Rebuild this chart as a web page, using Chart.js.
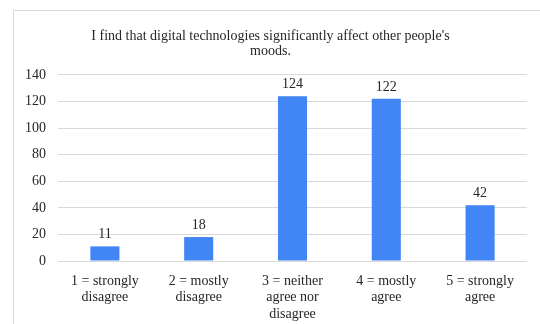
<!DOCTYPE html>
<html>
<head>
<meta charset="utf-8">
<script src="https://cdn.jsdelivr.net/npm/chart.js@4/dist/chart.umd.min.js"></script>
<style>
  html, body { margin: 0; padding: 0; background: #ffffff; }
  body { width: 540px; height: 324px; position: relative; overflow: hidden; font-family: 'Liberation Serif', serif; }
  #frame {
    position: absolute; left: 13px; top: 10px;
    width: 540px; height: 330px;
    border-left: 1px solid #d9d9d9; border-top: 1px solid #d9d9d9;
  }
  #wrap { position: absolute; left: 14px; top: 11px; width: 526px; height: 313px; }
</style>
</head>
<body>
<div id="frame"></div>
<div id="wrap"><canvas id="chart"></canvas></div>
<script>
// Survey answers on a 1–5 agreement scale
const categories = [
  ["1 = strongly", "disagree"],
  ["2 = mostly", "disagree"],
  ["3 = neither", "agree nor", "disagree"],
  ["4 = mostly", "agree"],
  ["5 = strongly", "agree"]
];
const responses = [11, 18, 124, 122, 42];
const yTicks = [0, 20, 40, 60, 80, 100, 120, 140];
const titleLines = ["I find that digital technologies significantly affect other people's", "moods."];

const serif = "'Liberation Serif', 'Times New Roman', serif";
const textColor = "#262626";

// Writes each bar's count just above it
const valueLabels = {
  id: "valueLabels",
  afterDatasetsDraw(chart) {
    const ctx = chart.ctx;
    const meta = chart.getDatasetMeta(0);
    ctx.save();
    ctx.font = "14px " + serif;
    ctx.fillStyle = textColor;
    ctx.textAlign = "center";
    ctx.textBaseline = "alphabetic";
    meta.data.forEach((bar, i) => {
      ctx.fillText(String(chart.data.datasets[0].data[i]), bar.x, bar.y - 8);
    });
    ctx.restore();
  }
};

function drawChart() {
  new Chart(document.getElementById("chart"), {
    type: "bar",
    data: {
      labels: categories,
      datasets: [{
        data: responses,
        backgroundColor: "#4285f4",
        borderWidth: 0,
        categoryPercentage: 1,
        barPercentage: 0.31
      }]
    },
    options: {
      responsive: true,
      maintainAspectRatio: false,
      animation: false,
      layout: { padding: { left: 0, right: 13, top: 0, bottom: 0 } },
      plugins: {
        legend: { display: false },
        tooltip: { enabled: false },
        title: {
          display: true,
          text: titleLines,
          color: textColor,
          font: { family: serif, size: 14, weight: "normal", lineHeight: 1.05 },
          padding: { top: 18, bottom: 16.5 }
        }
      },
      scales: {
        x: {
          grid: { display: false, drawTicks: false },
          border: { display: false },
          ticks: {
            color: textColor,
            font: { family: serif, size: 14, lineHeight: 1.18 },
            padding: 12,
            maxRotation: 0,
            autoSkip: false
          },
          afterFit(scale) { scale.height = 63; }
        },
        y: {
          min: 0,
          max: 140,
          afterBuildTicks(scale) { scale.ticks = yTicks.map(v => ({ value: v })); },
          grid: { color: "#d9d9d9", lineWidth: 1, drawTicks: false },
          border: { display: false },
          ticks: {
            color: textColor,
            font: { family: serif, size: 14 },
            padding: 12
          },
          afterFit(scale) { scale.width = 44; }
        }
      }
    },
    plugins: [valueLabels]
  });
}

Promise.all([
  document.fonts.load("14px 'Liberation Serif'"),
  document.fonts.load("14px 'Times New Roman'")
]).then(drawChart, drawChart);
</script>
</body>
</html>
